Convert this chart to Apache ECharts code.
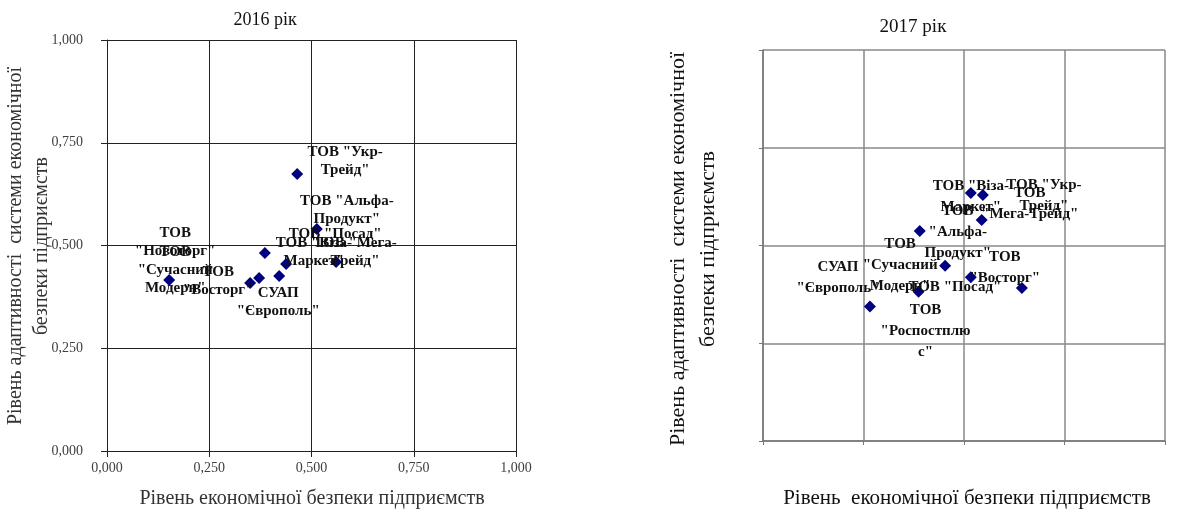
<!DOCTYPE html>
<html>
<head>
<meta charset="utf-8">
<script src="https://cdn.jsdelivr.net/npm/echarts@6/dist/echarts.min.js"></script>
<style>
  html, body { margin: 0; padding: 0; background: #fff; }
  #chart { width: 1177px; height: 513px; }
</style>
</head>
<body>
<div id="chart"></div>
<script>
// ---------- DATA ----------
const axisTicks = [0, 0.25, 0.5, 0.75, 1];

// 2016
const labels2016 = [
  'ТОВ "Укр-\nТрейд"',
  'ТОВ "Альфа-\nПродукт"',
  'ТОВ "Посад"',
  'ТОВ "Віза-\nМаркет"',
  'ТОВ "Мега-\nТрейд"',
  'ТОВ\n"Восторг"',
  'СУАП\n"Європоль"',
  'ТОВ\n"Сучасний\nМодерн"',
  'ТОВ\n"Новоторг"'
];
const x2016 = [0.465, 0.513, 0.438, 0.386, 0.560, 0.350, 0.421, 0.152, 0.372];
const y2016 = [0.674, 0.540, 0.455, 0.482, 0.460, 0.409, 0.426, 0.416, 0.421];

// 2017
const labels2017 = [
  'ТОВ "Віза-\nМаркет"',
  'ТОВ "Укр-\nТрейд"',
  'ТОВ\n"Мега-Трейд"',
  'ТОВ\n"Альфа-\nПродукт"',
  'ТОВ\n"Сучасний\nМодерн"',
  'ТОВ\n"Восторг"',
  'ТОВ "Посад"',
  'ТОВ\n"Роспостплю\nс"',
  'СУАП\n"Європоль"'
];
const x2017 = [0.517, 0.547, 0.544, 0.390, 0.453, 0.517, 0.644, 0.387, 0.266];
const y2017 = [0.634, 0.629, 0.565, 0.537, 0.448, 0.419, 0.391, 0.382, 0.344];

// label placement (px offsets of label centre from the marker) – style, not data
const labelOffsets2016 = [[48,-13],[30,-19],[49,-30],[49,-1],[19,-10],[-32,-2],[-1,26],[6,-10],[-84,-36]];
const labelOffsets2017 = [[0,4],[61,1],[48,-16],[38,1],[-45,-1],[34,-10],[-67,-1],[7,39],[-32,-29]];

const titles = ['2016 рік', '2017 рік'];
const xTitle = ['Рівень економічної безпеки підприємств', 'Рівень  економічної безпеки підприємств'];
const yTitle = ['Рівень адаптивності  системи економічної', 'безпеки підприємств'];

// ---------- CHART ----------
const FONT = "'Liberation Serif','Times New Roman',serif";
const chart = echarts.init(document.getElementById('chart'), null, {renderer: 'canvas'});

function buildData(labels, xs, ys, offs) {
  return labels.map((l, i) => ({
    name: l,
    value: [xs[i], ys[i]],
    label: { offset: offs[i] }
  }));
}
const fmt = v => v.toFixed(3).replace('.', ',');

function xAx(grid, left) {
  return {
    gridIndex: grid, type: 'value', min: 0, max: 1, interval: 0.25,
    axisLine: { show: true, onZero: false, lineStyle: { color: left ? '#222' : '#777', width: left ? 1 : 1.5 } },
    axisTick: { show: true, length: left ? 6 : 4, lineStyle: { color: left ? '#222' : '#777' } },
    axisLabel: { show: left, formatter: fmt, color: '#404040', fontFamily: FONT, fontSize: 14, margin: 10, showMinLabel: true, showMaxLabel: true },
    splitLine: { show: true, lineStyle: { color: left ? '#222' : '#888', width: left ? 1 : 1.5 } }
  };
}
function yAx(grid, left) {
  return {
    gridIndex: grid, type: 'value', min: 0, max: 1, interval: 0.25,
    axisLine: { show: true, onZero: false, lineStyle: { color: left ? '#222' : '#777', width: left ? 1 : 1.5 } },
    axisTick: { show: true, length: left ? 6 : 4, lineStyle: { color: left ? '#222' : '#777' } },
    axisLabel: { show: left, formatter: fmt, color: '#404040', fontFamily: FONT, fontSize: 14, margin: 24, showMinLabel: true, showMaxLabel: true },
    splitLine: { show: true, lineStyle: { color: left ? '#222' : '#888', width: left ? 1 : 1.5 } }
  };
}

function scatter(idx, data, fs, lh) {
  return {
    type: 'scatter', xAxisIndex: idx, yAxisIndex: idx,
    symbol: 'diamond', symbolSize: 12,
    itemStyle: { color: '#000080', opacity: 1 },
    label: {
      show: true, position: 'inside', formatter: '{b}',
      color: '#111', fontFamily: FONT, fontWeight: 'bold', fontSize: fs, lineHeight: lh,
      align: 'center', verticalAlign: 'middle'
    },
    emphasis: { disabled: true },
    data: data
  };
}

const option = {
  animation: false,
  backgroundColor: '#fff',
  grid: [
    { left: 107, top: 40, width: 409, height: 411 },
    { left: 763, top: 50, width: 402, height: 391 }
  ],
  xAxis: [xAx(0, true), xAx(1, false)],
  yAxis: [yAx(0, true), yAx(1, false)],
  series: [
    scatter(0, buildData(labels2016, x2016, y2016, labelOffsets2016), 15, 18),
    scatter(1, buildData(labels2017, x2017, y2017, labelOffsets2017), 15, 21)
  ],
  graphic: [
    { type: 'text', x: 265, y: 20, style: { text: titles[0], font: '18px ' + FONT, fill: '#111', align: 'center', verticalAlign: 'middle' } },
    { type: 'text', x: 913, y: 27, style: { text: titles[1], font: '19px ' + FONT, fill: '#111', align: 'center', verticalAlign: 'middle' } },
    { type: 'text', x: 312, y: 499, style: { text: xTitle[0], font: '20px ' + FONT, fill: '#333', align: 'center', verticalAlign: 'middle' } },
    { type: 'text', x: 967, y: 498, style: { text: xTitle[1], font: '21px ' + FONT, fill: '#111', align: 'center', verticalAlign: 'middle' } },
    { type: 'text', x: 29, y: 246, rotation: Math.PI / 2, style: { text: yTitle[0] + '\n' + yTitle[1], font: '20px ' + FONT, fill: '#333', align: 'center', verticalAlign: 'middle', lineHeight: 26 } },
    { type: 'text', x: 693, y: 249, rotation: Math.PI / 2, style: { text: yTitle[0] + '\n' + yTitle[1], font: '22px ' + FONT, fill: '#111', align: 'center', verticalAlign: 'middle', lineHeight: 30 } }
  ]
};
chart.setOption(option);
</script>
</body>
</html>
